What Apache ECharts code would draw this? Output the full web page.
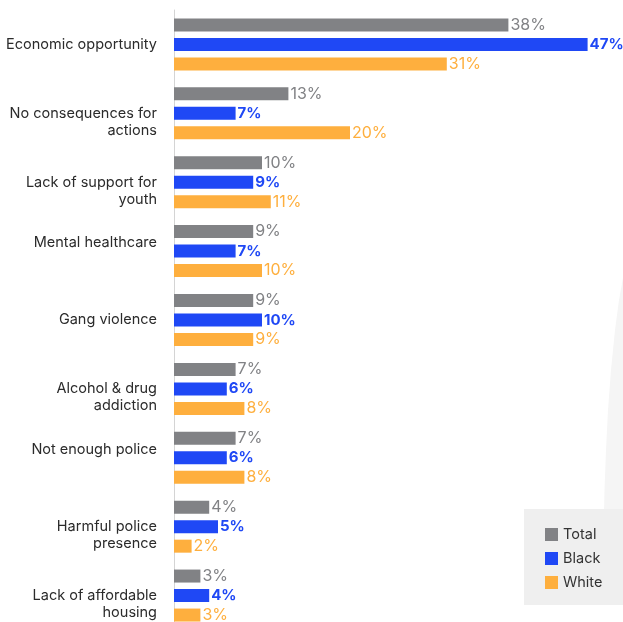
<!DOCTYPE html>
<html>
<head>
<meta charset="utf-8">
<script src="https://cdn.jsdelivr.net/npm/echarts@6/dist/echarts.min.js"></script>
<style>html,body{margin:0;padding:0;background:#fff;overflow:hidden}#c{width:623px;height:640px}</style>
</head>
<body>
<div id="c"></div>
<script>
const categories = [
  "Economic opportunity",
  "No consequences for\nactions",
  "Lack of support for\nyouth",
  "Mental healthcare",
  "Gang violence",
  "Alcohol & drug\naddiction",
  "Not enough police",
  "Harmful police\npresence",
  "Lack of affordable\nhousing"
];
const seriesNames = ["Total", "Black", "White"];
const total = [38, 13, 10, 9, 9, 7, 7, 4, 3];
const black = [47, 7, 9, 7, 10, 6, 6, 5, 4];
const white = [31, 20, 11, 10, 9, 8, 8, 2, 3];
const raisedLabels = ["Mental healthcare", "Not enough police"];

const colors = ["#818285", "#1F48F5", "#FEAF3E"];
const FONT = "Inter, 'Liberation Sans', Arial, sans-serif";

const chart = echarts.init(document.getElementById('c'), null, {renderer: 'canvas'});

function barSeries(name, data, color, weight, size) {
  return {
    name: name,
    type: 'bar',
    data: data,
    barWidth: 13,
    barGap: '50%',
    itemStyle: {color: color},
    label: {
      show: true,
      position: 'right',
      distance: 2,
      formatter: '{c}%',
      color: color,
      fontFamily: FONT,
      fontSize: size,
      fontWeight: weight
    }
  };
}

chart.setOption({
  animation: false,
  backgroundColor: '#ffffff',
  graphic: [{
    type: 'polygon',
    z: -10,
    shape: {points: [[623, 278], [619, 300], [615, 330], [611, 370], [608, 410], [606, 450], [604.5, 490], [604, 512], [623, 512]]},
    style: {fill: '#f5f5f5'}
  }],
  legend: {
    data: seriesNames,
    orient: 'vertical',
    left: 524,
    top: 509,
    padding: [18, 22, 15, 21],
    itemGap: 9,
    itemWidth: 13,
    itemHeight: 13,
    icon: 'rect',
    backgroundColor: '#efefef',
    textStyle: {fontFamily: FONT, fontSize: 14.5, color: '#333', lineHeight: 13}
  },
  grid: {left: 174, top: 10, width: 440, height: 620, containLabel: false},
  xAxis: {
    type: 'value', min: 0, max: 50, show: false
  },
  yAxis: {
    type: 'category',
    data: categories,
    inverse: true,
    axisLine: {show: true, lineStyle: {color: '#d4d4d4', width: 1}},
    axisTick: {show: false},
    splitLine: {show: false},
    axisLabel: {
      margin: 17,
      fontFamily: FONT,
      fontSize: 14.5,
      color: '#2b2b2b',
      lineHeight: 17,
      align: 'right',
      formatter: function (v) {
        if (v.indexOf('\n') >= 0) return '\n' + v;
        if (raisedLabels.indexOf(v) >= 0) return v + '\n';
        return v;
      }
    }
  },
  series: [
    barSeries(seriesNames[0], total, colors[0], 'normal', 16),
    barSeries(seriesNames[1], black, colors[1], 'bold', 15),
    barSeries(seriesNames[2], white, colors[2], 'normal', 16)
  ]
});
</script>
</body>
</html>
